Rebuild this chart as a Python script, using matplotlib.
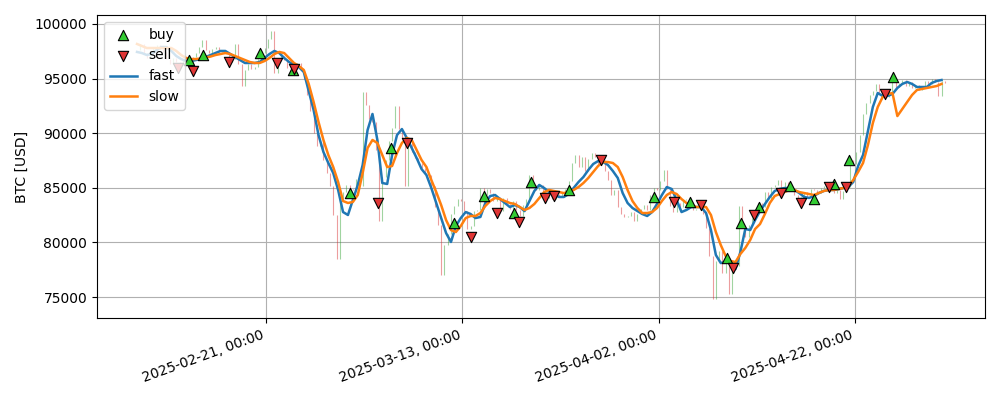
import numpy as np
import pandas as pd
import matplotlib
matplotlib.use("Agg")
import matplotlib.pyplot as plt
import matplotlib.dates as mdates

# ---------------- data ----------------
start = "2025-02-07 20:00"

# 8-hourly closes (USD)
close = [
    97600, 98200, 97300, 96900, 97500, 97900, 98100, 97700, 97400,
    96800, 96300, 96900, 96500, 96200, 96800, 96600, 96300, 97000,
    97300, 97900, 98500, 97600, 97300, 97700, 97900, 97400, 97600,
    97300, 96500, 96800, 98200, 96300, 94300, 95800, 96300, 95900,
    96100, 96800, 97300, 97800, 98600, 99400, 95500, 96800, 97100,
    96700, 96000, 96200, 95900, 96400, 95800, 95000, 93500, 92000,
    90000, 88800, 89300, 87500, 86400, 85200, 82500, 78500, 84000,
    84600, 85300, 84900, 84800, 85800, 85200, 93800, 92600, 91300,
    91000, 88500, 82000, 86000, 87500, 89300, 90500, 92500, 90400,
    89600, 85200, 89200, 88300, 87700, 87300, 86800, 86400, 86200,
    85200, 83200, 81600, 77000, 79800, 80800, 82600, 83300, 84000,
    83800, 82900, 81200, 81500, 82900, 83000, 85000, 84300, 84900,
    84500, 83800, 84200, 82900, 84100, 83500, 83100, 83800, 83000,
    82400, 83400, 84000, 86200, 85300, 84800, 85300, 84600, 84100,
    84600, 84000, 84400, 84200, 84600, 84900, 85600, 87300, 88000,
    86900, 87800, 86500, 87600, 88200, 87800, 87200, 87500, 86500,
    85700, 84300, 84800, 83200, 82600, 82300, 82400, 82800, 82000,
    82600, 83100, 83400, 83000, 84300, 85000, 84800, 85600, 86600,
    84900, 83300, 82800, 83600, 83200, 83900, 84000, 83300, 83000,
    83100, 83500, 82600, 81300, 78800, 74800, 78300, 79200, 77200,
    78200, 75300, 77600, 77800, 83300, 81500, 80500, 81600, 82200,
    82900, 83600, 83200, 84600, 84000, 85100, 85300, 85700, 84700,
    85500, 85200, 84900, 84300, 83600, 84200, 84600, 84200, 84900,
    84800, 84500, 85000, 85200, 84700, 85300, 84500, 84800, 84000,
    84700, 85100, 87500, 87200, 88300, 89800, 91800, 92800, 93500,
    93900, 94500, 93600, 94000, 93300, 93800, 94800, 94200, 94600,
    94900, 94300, 94700, 94100, 94400, 94000, 94300, 94800, 94500,
    95000, 94700, 93400, 94800, 94600,
]

# 12-hourly indicator lines (USD)
fast = [
    97440, 97340, 97160, 97250, 97620, 97890, 97890, 97530, 97070, 96790,
    96610, 96610, 96700, 96790, 96980, 97160, 97340, 97530, 97530, 97250,
    96980, 96700, 96430, 96430, 96430, 96520, 96890, 97250, 97530, 97340,
    96890, 96520, 96250, 96060, 95600, 93860, 92120, 89830, 88280, 87270,
    86350, 84800, 82780, 82510, 83880, 85260, 87090, 90290, 91760, 89380,
    85440, 85350, 88000, 89830, 90380, 89560, 88640, 87730, 86720, 86170,
    84980, 83610, 82230, 80860, 80040, 81500, 82230, 82780, 82600, 82230,
    82330, 83610, 84250, 84340, 83970, 83610, 83240, 83420, 83240, 82870,
    83790, 84710, 85260, 84980, 84610, 84430, 84160, 84160, 84430, 84980,
    85530, 85990, 86630, 87180, 87450, 87360, 87090, 86540, 85900, 84520,
    83610, 83150, 82870, 82600, 82420, 82780, 83520, 84340, 85070, 84890,
    83880, 82780, 82970, 83240, 83240, 83240, 82690, 81130, 78850, 78110,
    78200, 78110, 77560, 79120, 81230, 81130, 82050, 82870, 83520, 84160,
    84710, 84890, 84980, 84980, 84800, 84520, 84160, 84070, 84250, 84520,
    84710, 84800, 84800, 84890, 84980, 85070, 85530, 87000, 88000, 90200,
    92400, 93680, 93410, 93410, 93590, 94140, 94510, 94690, 94510, 94230,
    94230, 94230, 94600, 94780, 94870,
]
slow = [
    98170, 97990, 97800, 97800, 97800, 97800, 97800, 97800, 97530, 97160,
    96890, 96790, 96790, 96840, 96930, 97020, 97160, 97250, 97340, 97250,
    97070, 96890, 96700, 96520, 96430, 96430, 96610, 96890, 97250, 97440,
    97340, 96890, 96430, 96150, 95790, 94510, 92860, 91030, 89380, 88000,
    86900, 85530, 83790, 83610, 83700, 84340, 86350, 88640, 89380, 89100,
    88000, 86900, 87000, 88190, 89100, 89560, 89380, 88460, 87550, 86900,
    85710, 84610, 83420, 82050, 81130, 80950, 81500, 82230, 82420, 82420,
    82690, 83330, 83790, 84070, 83970, 83790, 83610, 83520, 83240, 82970,
    83150, 83520, 84070, 84610, 84800, 84710, 84610, 84520, 84610, 84800,
    85070, 85440, 85900, 86450, 87000, 87360, 87360, 87270, 86900, 85990,
    84800, 83790, 83150, 82690, 82690, 82780, 83150, 83790, 84340, 84610,
    84430, 83970, 83610, 83420, 83240, 83240, 83240, 82510, 80950, 79760,
    78750, 78300, 78200, 78940, 79490, 80220, 81230, 81680, 82600, 83610,
    84250, 84430, 84610, 84800, 84800, 84610, 84520, 84430, 84340, 84520,
    84710, 84800, 84800, 84890, 84980, 85160, 85710, 86450, 87270, 88920,
    90930, 92400, 93310, 93590, 93680, 91570, 92220, 92860, 93500, 93960,
    94050, 94140, 94230, 94320, 94510,
]

buy_times = [
    "2025-02-13 04:00", "2025-02-14 14:00", "2025-02-20 09:00", "2025-02-23 17:00",
    "2025-03-01 14:00", "2025-03-05 17:00", "2025-03-12 04:00", "2025-03-15 04:00",
    "2025-03-18 07:00", "2025-03-19 23:00", "2025-03-23 20:00", "2025-04-01 12:00",
    "2025-04-05 05:00", "2025-04-08 23:00", "2025-04-10 09:00", "2025-04-12 06:00",
    "2025-04-15 10:00", "2025-04-17 20:00", "2025-04-19 21:00", "2025-04-21 10:00",
    "2025-04-25 22:00",
]
buy_prices = [
    96700, 97160, 97320, 95790, 84550, 88620, 81750, 84280, 82660, 85560, 84800,
    84180, 83730, 78540, 81750, 83270, 85160, 83950, 85320, 87550, 95120,
]
sell_times = [
    "2025-02-12 00:00", "2025-02-13 14:00", "2025-02-17 06:00", "2025-02-22 03:00",
    "2025-02-23 21:00", "2025-03-04 09:00", "2025-03-07 09:00", "2025-03-13 21:00",
    "2025-03-16 13:00", "2025-03-18 18:00", "2025-03-21 11:00", "2025-03-22 09:00",
    "2025-03-27 04:00", "2025-04-03 13:00", "2025-04-06 08:00", "2025-04-09 15:00",
    "2025-04-11 17:00", "2025-04-14 11:00", "2025-04-16 12:00", "2025-04-19 09:00",
    "2025-04-21 02:00", "2025-04-25 01:00",
]
sell_prices = [
    95970, 95720, 96550, 96470, 95880, 83580, 89070, 80520, 82660, 81900, 84040,
    84250, 87590, 83700, 83380, 77630, 82510, 84500, 83580, 85100, 85100, 93560,
]

tick_dates = ["2025-02-21", "2025-03-13", "2025-04-02", "2025-04-22"]
y_ticks = [75000, 80000, 85000, 90000, 95000, 100000]

# ---------------- plot ----------------
close_arr = np.array(close, dtype=float)
close_t = pd.date_range(start, periods=len(close_arr), freq="8h")
line_t = pd.date_range(start, periods=len(fast), freq="12h")
opens = np.r_[close_arr[0], close_arr[:-1]]
up = close_arr >= opens

fig = plt.figure(figsize=(10, 4), dpi=100)
ax = fig.add_axes([0.097, 0.205, 0.888, 0.7575])

ax.vlines(close_t[up], opens[up], close_arr[up], color="tab:green", alpha=0.45, lw=0.8)
ax.vlines(close_t[~up], opens[~up], close_arr[~up], color="tab:red", alpha=0.45, lw=0.8)

h_buy = ax.scatter(pd.to_datetime(buy_times), buy_prices, marker="^", s=55,
                   color="#33cc33", edgecolors="black", linewidths=0.8, zorder=5, label="buy")
h_sell = ax.scatter(pd.to_datetime(sell_times), sell_prices, marker="v", s=55,
                    color="#e03535", edgecolors="black", linewidths=0.8, zorder=5, label="sell")
h_fast, = ax.plot(line_t, fast, color="C0", lw=1.8, label="fast", zorder=3)
h_slow, = ax.plot(line_t, slow, color="C1", lw=1.8, label="slow", zorder=3)

ax.set_xlim(pd.Timestamp("2025-02-03 18:07"), pd.Timestamp("2025-05-05 06:22"))
ax.set_ylim(73077, 100824)
ax.set_yticks(y_ticks)
ax.set_xticks(pd.to_datetime(tick_dates))
ax.xaxis.set_major_formatter(mdates.DateFormatter("%Y-%m-%d, %H:%M"))
plt.setp(ax.get_xticklabels(), rotation=20, ha="right")
ax.grid(True)
ax.set_ylabel("BTC [USD]")
ax.legend(handles=[h_buy, h_sell, h_fast, h_slow], loc="upper left")

fig.savefig("out.png", dpi=100)
